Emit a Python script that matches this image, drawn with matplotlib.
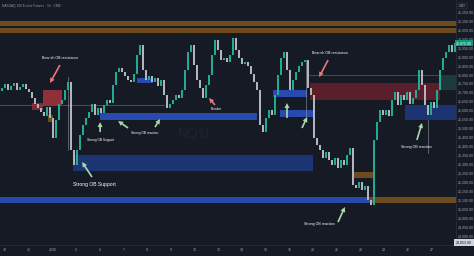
import matplotlib
matplotlib.use('Agg')
from matplotlib import pyplot as plt

plt.rcParams['font.family'] = ['Liberation Sans', 'DejaVu Sans']

# closes, one per ~3h slot (open = previous close)
closes = [25725, 25745, 25715, 25735, 25755, 25715, 25730, 25745, 25720, 25705,
          25670, 25635, 25615, 25590, 25570, 25620, 25560, 25445, 25545, 25635,
          25660, 25715, 25760, 25380, 25295, 25380, 25465, 25520, 25560, 25590,
          25635, 25575, 25615, 25585, 25630, 25660, 25640, 25740, 25815, 25835,
          25815, 25790, 25770, 25760, 25805, 25910, 25965, 25825, 25770, 25790,
          25760, 25780, 25735, 25770, 25685, 25615, 25635, 25660, 25685, 25670,
          25715, 25825, 25925, 25965, 25855, 25770, 25725, 25670, 25740, 25800,
          25910, 25995, 25935, 25880, 25890, 25870, 25910, 26005, 25935, 25890,
          25860, 25870, 25850, 25805, 25760, 25715, 25520, 25480, 25560, 25600,
          25575, 25685, 25800, 25890, 25925, 25825, 25715, 25770, 25815, 25850,
          25870, 25880, 25725, 25685, 25445, 25405, 25380, 25335, 25370, 25325,
          25295, 25335, 25280, 25325, 25295, 25350, 25390, 25185, 25165, 25200,
          25155, 25180, 25100, 25070, 25435, 25535, 25600, 25575, 25600, 25570,
          25660, 25705, 25630, 25685, 25660, 25705, 25635, 25670, 25715, 25825,
          25740, 25630, 25575, 25645, 25615, 25715, 25825, 25890, 25925, 25965,
          25925, 25975]
first_open = 25710

day_labels = ['30', '31', '2026', '5', '6', '7', '8', '9', '12', '13', '14',
              '15', '16', '20', '21', '22', '23', '26', '27']

# zones: start slot, end slot, low, high, kind
zone_start = [-1, -1, -1, 122.7, 117, 23.7, 32.7, 45, 90.3, 92.7, 134.3, 13.7, 10, 15.3, 102.7, 146]
zone_end = [152, 152, 122.7, 152, 123.7, 103.7, 85, 50.3, 101.7, 103.7, 152, 20, 13.7, 17, 146, 152]
zone_low = [26070, 26030, 25083, 25083, 25223, 25262, 25546, 25753, 25675, 25563, 25546, 25630, 25602, 25535, 25658, 25714]
zone_high = [26100, 26060, 25117, 25117, 25256, 25352, 25585, 25781, 25714, 25602, 25630, 25714, 25641, 25574, 25753, 25797]
zone_kind = ['htf', 'htf', 'bull', 'htf', 'htf', 'bull_dark', 'bull', 'bull', 'bull', 'bull',
             'bull_dark', 'bear', 'bear2', 'htf', 'bear_dark', 'teal']
zone_colors = {'htf': '#6e4b1f', 'bull': '#2849ad', 'bull_dark': '#1d3472',
               'bear': '#8e2f3a', 'bear2': '#7a2a33', 'bear_dark': '#5a1f2a', 'teal': '#1c3b3a'}

# labels: text, slot, price, size
notes = [('Bearish OB resistance', 19.3, 25892, 2.6),
         ('Strong OB Support', 30.7, 25184, 3.6),
         ('Strong OB Support', 32.7, 25435, 2.3),
         ('Strong OB reaction', 47.7, 25474, 2.3),
         ('Breaker', 71.3, 25608, 2.3),
         ('Bearish OB resistance', 109.3, 25920, 2.6),
         ('Strong OB reaction', 105.7, 24966, 2.6),
         ('Strong OB reaction', 138, 25396, 2.6)]

# arrows: tail slot, tail price, head slot, head price, colour
arrows = [(30, 25228, 26.7, 25312, 'g'), (32.7, 25479, 32.7, 25535, 'g'),
          (42, 25502, 38.7, 25541, 'g'), (51, 25507, 52.7, 25552, 'g'),
          (95, 25558, 95, 25641, 'g'), (100, 25502, 101.7, 25563, 'g'),
          (112, 24977, 114.3, 25061, 'g'), (138.3, 25435, 140, 25530, 'g'),
          (19.3, 25853, 16, 25753, 'r'), (71, 25630, 69, 25669, 'r'),
          (108.7, 25881, 105.7, 25786, 'r')]

bg = '#161a25'
fig = plt.figure(figsize=(4.74, 2.56), dpi=100, facecolor=bg)
ax = fig.add_axes([0, 11 / 256, 456 / 474, 245 / 256])
ax.set_facecolor(bg)

for k0, k1, lo, hi, kind in zip(zone_start, zone_end, zone_low, zone_high, zone_kind):
    ax.fill_between([k0, k1], lo, hi, color=zone_colors[kind], lw=0, zorder=1)

# thin marker lines
ax.plot([-1, 54], [25630, 25630], color='#6b6650', lw=0.5, zorder=1.5)
ax.plot([101.7, 146], [25797, 25797], color='#5d606b', lw=0.5, zorder=1.5)
ax.plot([22, 22], [25379, 25786], color='#9598a1', lw=0.4, zorder=1.5)
ax.plot([101.3, 101.3], [25563, 25881], color='#9598a1', lw=0.4, zorder=1.5)
ax.plot([142, 142], [25362, 25546], color='#9598a1', lw=0.4, zorder=1.5)

# faint symbol watermark
ax.text(64, 25470, 'NQ1!', color='#ffffff', alpha=0.04, fontsize=10,
        ha='center', va='center', zorder=1.2)

opens = [first_open] + closes[:-1]
for i, (o, c) in enumerate(zip(opens, closes)):
    col = '#22ab94' if c >= o else '#b2b5be'
    ax.bar(i, abs(c - o) if abs(c - o) > 3 else 3, bottom=min(o, c), width=0.5,
           color=col, lw=0, zorder=3)

for txt, k, p, fs in notes:
    ax.text(k, p, txt, color='white', fontsize=fs, ha='center', va='center', zorder=5)

for k0, p0, k1, p1, c in arrows:
    col = '#a9d9a4' if c == 'g' else '#e8777a'
    ax.annotate('', xy=(k1, p1), xytext=(k0, p0), zorder=5,
                arrowprops=dict(arrowstyle='simple,head_width=0.9,head_length=0.9,tail_width=0.3',
                                color=col, mutation_scale=4, shrinkA=0, shrinkB=0, lw=0))

ax.set_xlim(-0.667, 151.33)
ax.set_ylim(24849, 26216)

ax.set_xticks([1 + 7.9 * i for i in range(len(day_labels))])
ax.set_xticklabels(day_labels)
ax.set_yticks(range(24900, 26151, 50))
ax.set_yticklabels([f'{v:,.2f}' for v in range(24900, 26151, 50)])
ax.yaxis.tick_right()
ax.tick_params(axis='both', length=0, labelsize=2.6, colors='#a3a6af')
ax.tick_params(axis='x', pad=2.5)
ax.tick_params(axis='y', pad=1.5)
for s in ['top', 'left']:
    ax.spines[s].set_visible(False)
for s in ['bottom', 'right']:
    ax.spines[s].set_color('#2a2e39')
    ax.spines[s].set_linewidth(0.6)

ax.text(0.005, 0.985, 'NASDAQ 100 E-mini Futures · 1h · CME', transform=ax.transAxes,
        color='#9598a1', fontsize=2.3, ha='left', va='top')
ax.text(1.006, 0.985, 'USD', transform=ax.transAxes, color='#b2b5be', fontsize=2.3,
        ha='left', va='top', bbox=dict(boxstyle='square,pad=0.3', fc=bg, ec='#434651', lw=0.3))
ax.text(1.0, closes[-1], f'{closes[-1]:,.2f}', transform=ax.get_yaxis_transform(),
        color='white', fontsize=2.6, ha='left', va='center',
        bbox=dict(boxstyle='square,pad=0.35', fc='#089981', ec='none'))
ax.text(1.0, 24862, '24,853.00', transform=ax.get_yaxis_transform(),
        color='#131722', fontsize=2.6, ha='left', va='center',
        bbox=dict(boxstyle='square,pad=0.45', fc='#d1d4dc', ec='none'))

fig.savefig('out.png', dpi=100, facecolor=bg)
